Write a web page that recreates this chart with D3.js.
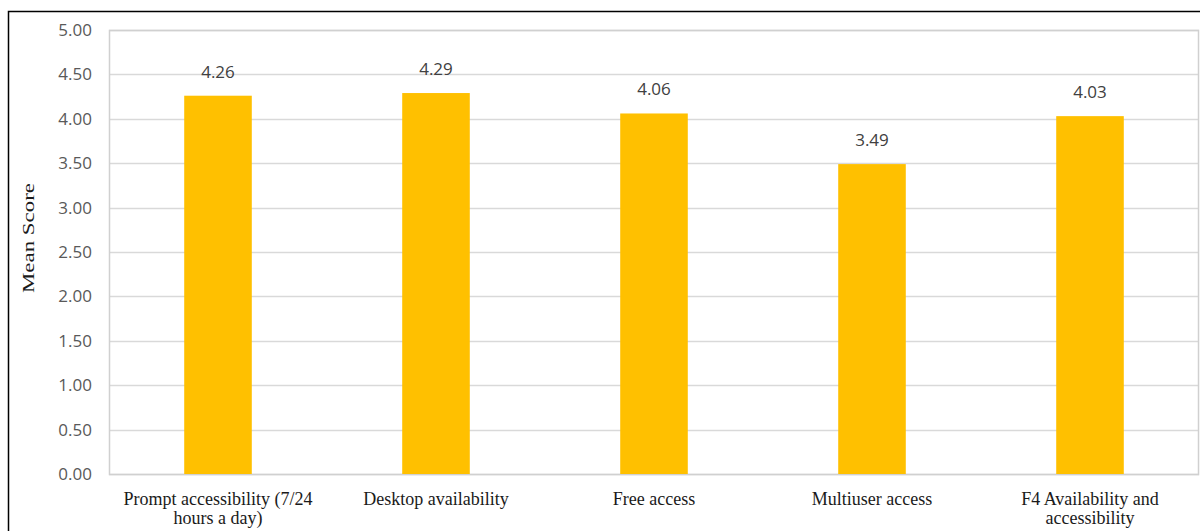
<!DOCTYPE html>
<html>
<head>
<meta charset="utf-8">
<script src="https://cdn.jsdelivr.net/npm/d3@7"></script>
<style>
	body { margin: 0; background: #fff; }
	svg { display: block; }
</style>
</head>
<body>
<div id="chart"></div>
<script>
const categories = [
	'Prompt accessibility (7/24 hours a day)',
	'Desktop availability',
	'Free access',
	'Multiuser access',
	'F4 Availability and accessibility'
];
const meanScores = [4.26, 4.29, 4.06, 3.49, 4.03];
const yTicks = [0, 0.5, 1, 1.5, 2, 2.5, 3, 3.5, 4, 4.5, 5];
const yTitle = 'Mean Score';

const width = 1200, height = 531;
const margin = { top: 30, right: 1, bottom: 57, left: 109 };
const innerW = width - margin.left - margin.right,
	innerH = height - margin.top - margin.bottom;

const svg = d3.select('#chart').append('svg')
	.attr('width', width)
	.attr('height', height)
	.style('background-color', '#fff');

// outer frame of the figure
svg.append('rect')
	.attr('x', 8.5)
	.attr('y', 11.5)
	.attr('width', width)
	.attr('height', height)
	.attr('fill', 'none')
	.attr('stroke', '#000')
	.attr('stroke-width', 1.5);

const xScale = d3.scaleBand()
	.domain(categories)
	.range([0, innerW])
	.paddingInner(0.69)
	.paddingOuter(0.345);

const yScale = d3.scaleLinear()
	.domain([0, 5])
	.range([innerH, 0]);

const g = svg.append('g')
	.attr('transform', `translate(${margin.left}, ${margin.top})`);

// grid lines
g.append('g')
	.selectAll('line')
	.data(yTicks)
	.enter().append('line')
	.attr('x1', 0)
	.attr('x2', innerW)
	.attr('y1', d => Math.round(yScale(d)) + 0.5)
	.attr('y2', d => Math.round(yScale(d)) + 0.5)
	.attr('stroke', '#d9d9d9')
	.attr('stroke-width', 1.5);

// plot area border
g.append('rect')
	.attr('x', 0.5)
	.attr('y', 0.5)
	.attr('width', innerW - 1)
	.attr('height', innerH)
	.attr('fill', 'none')
	.attr('stroke', '#d0d0d0')
	.attr('stroke-width', 1.5);

const axisY = g.append('g')
	.attr('class', 'axisY')
	.call(d3.axisLeft(yScale).tickValues(yTicks).tickFormat(d3.format('.2f')).tickSize(0).tickPadding(17));
axisY.select('.domain').remove();
axisY.selectAll('text')
	.attr('font-family', '"Open Sans", sans-serif')
	.attr('font-size', '17px')
	.attr('fill', '#595959');

// bars
g.append('g')
	.selectAll('rect')
	.data(meanScores)
	.enter().append('rect')
	.attr('x', (d, i) => xScale(categories[i]))
	.attr('y', d => yScale(d))
	.attr('width', xScale.bandwidth())
	.attr('height', d => innerH - yScale(d))
	.attr('fill', '#FFC000');

// value labels
g.append('g')
	.selectAll('text')
	.data(meanScores)
	.enter().append('text')
	.attr('x', (d, i) => xScale(categories[i]) + xScale.bandwidth() / 2)
	.attr('y', d => yScale(d) - 18)
	.attr('text-anchor', 'middle')
	.attr('font-family', '"Open Sans", sans-serif')
	.attr('font-size', '17px')
	.attr('fill', '#404040')
	.text(d => d.toFixed(2));

// category labels, wrapped
const wrapWidth = 205;
const catLabels = g.append('g')
	.selectAll('text')
	.data(categories)
	.enter().append('text')
	.attr('x', d => xScale(d) + xScale.bandwidth() / 2)
	.attr('y', innerH + 31)
	.attr('text-anchor', 'middle')
	.attr('font-family', '"Liberation Serif", "Times New Roman", serif')
	.attr('font-size', '18px')
	.attr('fill', '#1a1a1a');

catLabels.each(function (d) {
	const text = d3.select(this);
	const words = d.split(' ');
	let line = [];
	let tspan = text.append('tspan').attr('x', text.attr('x')).attr('dy', 0);
	words.forEach(w => {
		line.push(w);
		tspan.text(line.join(' '));
		if (tspan.node().getComputedTextLength() > wrapWidth && line.length > 1) {
			line.pop();
			tspan.text(line.join(' '));
			line = [w];
			tspan = text.append('tspan').attr('x', text.attr('x')).attr('dy', 19).text(w);
		}
	});
});

// y axis title
svg.append('text')
	.attr('transform', `translate(34, ${margin.top + innerH / 2 - 14}) rotate(-90)`)
	.attr('text-anchor', 'middle')
	.attr('font-family', '"Liberation Serif", "Times New Roman", serif')
	.attr('font-size', '17px')
	.attr('fill', '#1a1a1a')
	.attr('textLength', 110)
	.attr('lengthAdjust', 'spacingAndGlyphs')
	.text(yTitle);
</script>
</body>
</html>
